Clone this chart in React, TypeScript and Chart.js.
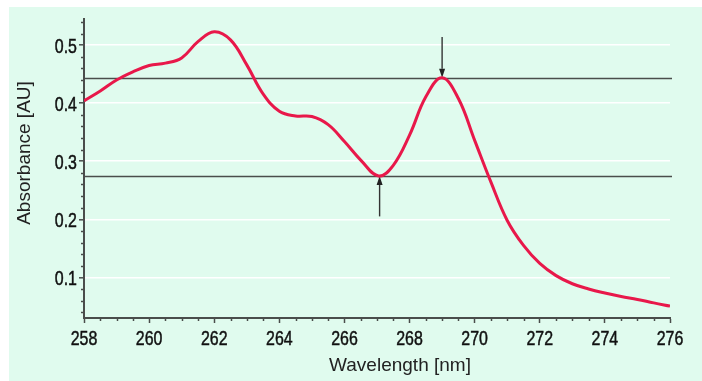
import React, { useEffect, useRef } from "react";
import { Chart, registerables } from "chart.js";

Chart.register(...registerables);

const WAVELENGTHS = [
  258, 258.5, 259, 259.5, 260, 260.5, 261, 261.5, 262, 262.5, 263, 263.5, 264,
  264.5, 265, 265.5, 266, 266.5, 267.05, 267.5, 268, 268.5, 269, 269.5, 270,
  270.5, 271, 271.5, 272, 272.5, 273, 273.5, 274, 274.5, 275, 275.5, 276,
];
const ABSORBANCE = [
  0.404, 0.421, 0.44, 0.454, 0.465, 0.469, 0.478, 0.506, 0.523, 0.509, 0.466,
  0.416, 0.386, 0.378, 0.377, 0.363, 0.334, 0.302, 0.2745, 0.293, 0.345, 0.411,
  0.4436, 0.408, 0.336, 0.264, 0.198, 0.155, 0.124, 0.103, 0.089, 0.08, 0.073,
  0.067, 0.062, 0.056, 0.0505,
];
const X_TICKS = [258, 260, 262, 264, 266, 268, 270, 272, 274, 276];
const Y_TICKS = [0.1, 0.2, 0.3, 0.4, 0.5];
const X_RANGE = [258, 276];
const Y_RANGE = [0.03, 0.545];
const X_MINOR_STEP = 0.5;
const Y_MINOR_STEP = 0.02;
const REF_LEVELS = [0.4436, 0.2747];
const ARROW_X = [269.0, 267.08];
const ARROW_FROM = [0.514, 0.205];
const ARROW_TO = [0.4436, 0.2747];
const X_TITLE = "Wavelength [nm]";
const Y_TITLE = "Absorbance [AU]";

const MINT = "rgb(224,251,238)";
const RED = "rgb(232,24,74)";
const DARK = "#4a4d4b";
const TICK_FONT = '"Liberation Sans", Arial, sans-serif';
const TITLE_FONT = '"Liberation Sans", Arial, sans-serif';
const CONDENSE = 0.76;

const decorPlugin = {
  id: "decor",
  beforeDatasetsDraw(chart: any) {
    const { ctx, chartArea, scales } = chart;
    const xs = scales.x;
    const ys = scales.y;
    ctx.save();
    ctx.strokeStyle = DARK;
    ctx.lineWidth = 1.6;
    REF_LEVELS.forEach((v) => {
      const y = Math.round(ys.getPixelForValue(v)) + 0.5;
      ctx.beginPath();
      ctx.moveTo(chartArea.left, y);
      ctx.lineTo(chartArea.right + 2, y);
      ctx.stroke();
    });
    ctx.fillStyle = "#222";
    ctx.strokeStyle = "#333";
    ctx.lineWidth = 1.4;
    ARROW_X.forEach((xv, i) => {
      const x = xs.getPixelForValue(xv);
      const y0 = ys.getPixelForValue(ARROW_FROM[i]);
      const y1 = ys.getPixelForValue(ARROW_TO[i]);
      const dir = y1 > y0 ? 1 : -1;
      const headLen = 9;
      ctx.beginPath();
      ctx.moveTo(x, y0);
      ctx.lineTo(x, y1 - dir * headLen);
      ctx.stroke();
      ctx.beginPath();
      ctx.moveTo(x, y1);
      ctx.lineTo(x - 3, y1 - dir * headLen);
      ctx.lineTo(x + 3, y1 - dir * headLen);
      ctx.closePath();
      ctx.fill();
    });
    ctx.restore();
  },
  afterDraw(chart: any) {
    const { ctx, chartArea, scales } = chart;
    const xs = scales.x;
    const ys = scales.y;
    ctx.save();
    ctx.strokeStyle = DARK;
    ctx.lineWidth = 1.5;
    for (let v = X_RANGE[0]; v <= X_RANGE[1] + 1e-9; v += X_MINOR_STEP) {
      if (X_TICKS.some((t) => Math.abs(t - v) < 1e-6)) continue;
      const x = Math.round(xs.getPixelForValue(v)) + 0.5;
      ctx.beginPath();
      ctx.moveTo(x, chartArea.bottom);
      ctx.lineTo(x, chartArea.bottom + 3);
      ctx.stroke();
    }
    for (let k = 2; k * Y_MINOR_STEP <= Y_RANGE[1] + 1e-9; k++) {
      const v = k * Y_MINOR_STEP;
      if (v < Y_RANGE[0]) continue;
      if (Y_TICKS.some((t) => Math.abs(t - v) < 1e-6)) continue;
      const y = Math.round(ys.getPixelForValue(v)) + 0.5;
      ctx.beginPath();
      ctx.moveTo(chartArea.left, y);
      ctx.lineTo(chartArea.left - 3, y);
      ctx.stroke();
    }
    // condensed tick labels
    ctx.fillStyle = "#111";
    ctx.strokeStyle = "#111";
    ctx.lineWidth = 0.5;
    ctx.font = "21px " + TICK_FONT;
    ctx.textBaseline = "alphabetic";
    X_TICKS.forEach((t) => {
      const x = xs.getPixelForValue(t);
      ctx.save();
      ctx.translate(x, 345);
      ctx.scale(CONDENSE, 1);
      ctx.textAlign = "center";
      ctx.fillText(String(t), 0, 0);
      ctx.strokeText(String(t), 0, 0);
      ctx.restore();
    });
    Y_TICKS.forEach((t) => {
      const y = ys.getPixelForValue(t);
      ctx.save();
      ctx.translate(77, y + 7.5);
      ctx.scale(CONDENSE, 1);
      ctx.textAlign = "right";
      ctx.fillText(t.toFixed(1), 0, 0);
      ctx.strokeText(t.toFixed(1), 0, 0);
      ctx.restore();
    });
    // titles
    ctx.fillStyle = "#222";
    ctx.font = "19px " + TITLE_FONT;
    ctx.textAlign = "center";
    ctx.textBaseline = "alphabetic";
    ctx.fillText(X_TITLE, 400, 371);
    ctx.translate(25, 153);
    ctx.rotate(-Math.PI / 2);
    ctx.textBaseline = "middle";
    ctx.fillText(Y_TITLE, 0, 0);
    ctx.restore();
  },
};

export default function App() {
  const ref = useRef<HTMLCanvasElement | null>(null);
  useEffect(() => {
    if (!ref.current) return;
    const chart = new Chart(ref.current, {
      type: "line",
      data: {
        datasets: [
          {
            data: WAVELENGTHS.map((w, i) => ({ x: w, y: ABSORBANCE[i] })),
            borderColor: RED,
            borderWidth: 3,
            pointRadius: 0,
            fill: false,
            tension: 0.4,
          },
        ],
      },
      options: {
        animation: false,
        responsive: false,
        devicePixelRatio: 1,
        layout: { padding: { left: 0, top: 19, right: 32, bottom: 0 } },
        plugins: { legend: { display: false }, tooltip: { enabled: false } },
        scales: {
          x: {
            type: "linear",
            min: X_RANGE[0],
            max: X_RANGE[1],
            afterBuildTicks: (s: any) => {
              s.ticks = X_TICKS.map((v) => ({ value: v }));
            },
            afterFit: (s: any) => {
              s.height = 63;
            },
            grid: {
              drawOnChartArea: false,
              drawTicks: true,
              tickLength: 5,
              tickColor: DARK,
              tickWidth: 1.5,
            },
            border: { display: true, color: DARK, width: 2 },
            ticks: {
              color: "rgba(0,0,0,0)",
              font: { size: 20 },
              maxRotation: 0,
              autoSkip: false,
            },
          },
          y: {
            type: "linear",
            min: Y_RANGE[0],
            max: Y_RANGE[1],
            afterBuildTicks: (s: any) => {
              s.ticks = Y_TICKS.map((v) => ({ value: v }));
            },
            afterFit: (s: any) => {
              s.width = 84;
            },
            grid: {
              color: "#ffffff",
              lineWidth: 1.6,
              drawTicks: true,
              tickLength: 5,
              tickColor: DARK,
              tickWidth: 1.5,
            },
            border: { display: true, color: DARK, width: 2 },
            ticks: {
              color: "rgba(0,0,0,0)",
              font: { size: 20 },
              autoSkip: false,
            },
          },
        },
      },
      plugins: [decorPlugin],
    } as any);
    return () => chart.destroy();
  }, []);

  return (
    <div style={{ position: "absolute", left: 0, top: 0, width: 702, height: 381, background: "#fff" }}>
      <div style={{ position: "absolute", left: 9, top: 7, width: 693, height: 374, background: MINT }} />
      <canvas ref={ref} width={702} height={381} style={{ position: "absolute", left: 0, top: 0, width: 702, height: 381 }} />
    </div>
  );
}
